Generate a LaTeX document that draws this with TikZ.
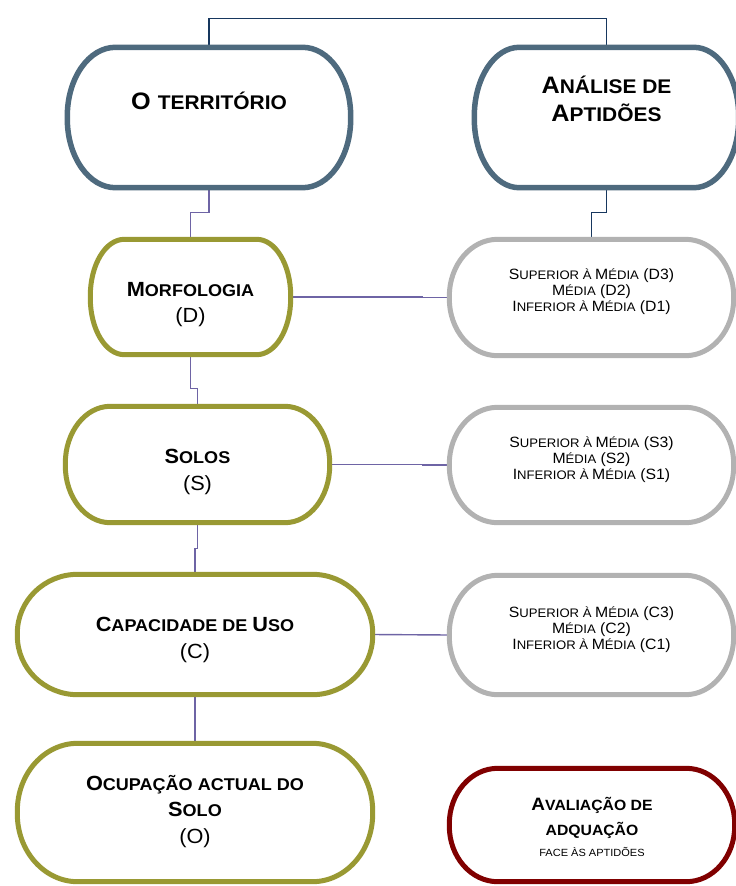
\documentclass[tikz,border=0pt]{standalone}
\usepackage{fontspec}
\setmainfont{Liberation Sans}[FakeStretch=1.06]
\usetikzlibrary{calc}

\definecolor{slate}{RGB}{78,106,126}
\definecolor{olive}{RGB}{153,153,51}
\definecolor{lightgrey}{RGB}{178,178,178}
\definecolor{darkred}{RGB}{128,0,0}
\definecolor{navy}{RGB}{23,55,94}
\definecolor{linkpurple}{RGB}{110,100,165}

% small caps by hand: rest of the word at 83% of the size in force
\makeatletter
\newcommand{\smcap}[1]{{\fontsize{\strip@pt\dimexpr0.83\dimexpr\f@size pt\relax\relax}{0}\selectfont #1}}
\makeatother

% rounded box drawn round a (named) node
\newcommand{\pillshape}[2]{%
  \draw[#2] let \p1=(#1.north west), \p2=(#1.south east),
    \n1={0.49*(\y1-\y2)}, \n2={0.17*(\x2-\x1)} in
    (\x1+\n2,\y1) -- (\x2-\n2,\y1)
    arc[start angle=90, end angle=0, x radius=\n2, y radius=\n1]
    -- (\x2,\y2+\n1)
    arc[start angle=0, end angle=-90, x radius=\n2, y radius=\n1]
    -- (\x1+\n2,\y2)
    arc[start angle=270, end angle=180, x radius=\n2, y radius=\n1]
    -- (\x1,\y1-\n1)
    arc[start angle=180, end angle=90, x radius=\n2, y radius=\n1]
    -- cycle;}

\tikzset{
  box/.style={draw=none, inner sep=0pt},
  link/.style={draw=linkpurple, line width=1.4pt},
  navylink/.style={draw=navy, line width=1.4pt},
  slatebox/.style={draw=slate, line width=5.5pt},
  olivebox/.style={draw=olive, line width=5pt},
  greybox/.style={draw=lightgrey, line width=5pt},
  redbox/.style={draw=darkred, line width=5pt},
  toptxt/.style={align=center, font=\fontsize{23.8}{28}\selectfont\bfseries},
  midtxt/.style={align=center, font=\fontsize{20.5}{26.5}\selectfont\bfseries},
  greytxt/.style={align=center, font=\fontsize{14.9}{16}\selectfont},
  evaltxt/.style={align=center, font=\fontsize{17.9}{25}\selectfont\bfseries}
}

\begin{document}
\begin{tikzpicture}[x=1pt,y=1pt]
\useasboundingbox (0,0) rectangle (736,-886);
\clip (0,0) rectangle (736,-886);

% caixas
\node[box, minimum width=283pt, minimum height=140pt] (terr) at (209,-117.5) {};
\node[box, minimum width=264pt, minimum height=140pt] (anal) at (606.5,-117.5) {};
\node[box, minimum width=200pt, minimum height=115pt] (morf) at (190.5,-297) {};
\node[box, minimum width=284pt, minimum height=116pt] (dgrau) at (591.5,-297.5) {};
\node[box, minimum width=264pt, minimum height=116pt] (solos) at (197.5,-464.5) {};
\node[box, minimum width=284pt, minimum height=115pt] (sgrau) at (591.5,-465) {};
\node[box, minimum width=355pt, minimum height=120pt] (cap) at (195,-634.5) {};
\node[box, minimum width=284pt, minimum height=119pt] (cgrau) at (591.5,-635) {};
\node[box, minimum width=355pt, minimum height=138pt] (ocup) at (195,-812.5) {};
\node[box, minimum width=285pt, minimum height=113pt] (aval) at (592,-825) {};

% textos
\node[toptxt] (terr-t) at ([yshift=17pt]terr) {O \smcap{TERRITÓRIO}};
\node[toptxt] (anal-t) at ([yshift=18.5pt]anal) {A\smcap{NÁLISE DE}\\A\smcap{PTIDÕES}};
\node[midtxt] (morf-t) at ([yshift=-7.5pt]morf) {M\smcap{ORFOLOGIA}\\\mdseries(D)};
\node[midtxt] (solos-t) at ([yshift=-7.5pt]solos) {S\smcap{OLOS}\\\mdseries(S)};
\node[midtxt] (cap-t) at ([yshift=-5.5pt]cap) {C\smcap{APACIDADE DE }U\smcap{SO}\\\mdseries(C)};
\node[midtxt] (ocup-t) at ([yshift=1pt]ocup) {O\smcap{CUPAÇÃO ACTUAL DO}\\S\smcap{OLO}\\\mdseries(O)};
\node[greytxt] (dgrau-t) at ([yshift=5.5pt]dgrau)
  {S\smcap{UPERIOR À }M\smcap{ÉDIA} (D3)\\M\smcap{ÉDIA} (D2)\\I\smcap{NFERIOR À }M\smcap{ÉDIA} (D1)};
\node[greytxt] (sgrau-t) at ([yshift=5.5pt]sgrau)
  {S\smcap{UPERIOR À }M\smcap{ÉDIA} (S3)\\M\smcap{ÉDIA} (S2)\\I\smcap{NFERIOR À }M\smcap{ÉDIA} (S1)};
\node[greytxt] (cgrau-t) at ([yshift=5.5pt]cgrau)
  {S\smcap{UPERIOR À }M\smcap{ÉDIA} (C3)\\M\smcap{ÉDIA} (C2)\\I\smcap{NFERIOR À }M\smcap{ÉDIA} (C1)};
\node[evaltxt] (aval-t) at ([yshift=-2pt]aval)
  {A\smcap{VALIAÇÃO DE}\\\smcap{ADQUAÇÃO}\\[-4pt]\mdseries\fontsize{10.4}{12}\selectfont FACE ÀS APTIDÕES};

% ligacoes
\draw[navylink] (terr.north) -- ++(0,29) -| (anal.north);
\draw[link] (terr.south) -- ++(0,-25) -| (morf.north);
\draw[navylink] (anal.south) -- ++(0,-25) -| (dgrau.north);
\draw[link] (morf.east) -| ($(dgrau.west)+(-27,0)$) -- (dgrau.west);
\draw[link] (morf.south) -- ++(0,-33.5) -| (solos.north);
\draw[link] (solos.east) -| ($(sgrau.west)+(-27,0)$) -- (sgrau.west);
\draw[link] (solos.south) -- ++(0,-25.5) -| (cap.north);
\draw[link] (cap.east) -- (cgrau.west);
\draw[link] (cap.south) -- (ocup.north);

% contornos
\pillshape{terr}{slatebox}
\pillshape{anal}{slatebox}
\pillshape{morf}{olivebox}
\pillshape{solos}{olivebox}
\pillshape{cap}{olivebox}
\pillshape{ocup}{olivebox}
\pillshape{dgrau}{greybox}
\pillshape{sgrau}{greybox}
\pillshape{cgrau}{greybox}
\pillshape{aval}{redbox}
\end{tikzpicture}
\end{document}
